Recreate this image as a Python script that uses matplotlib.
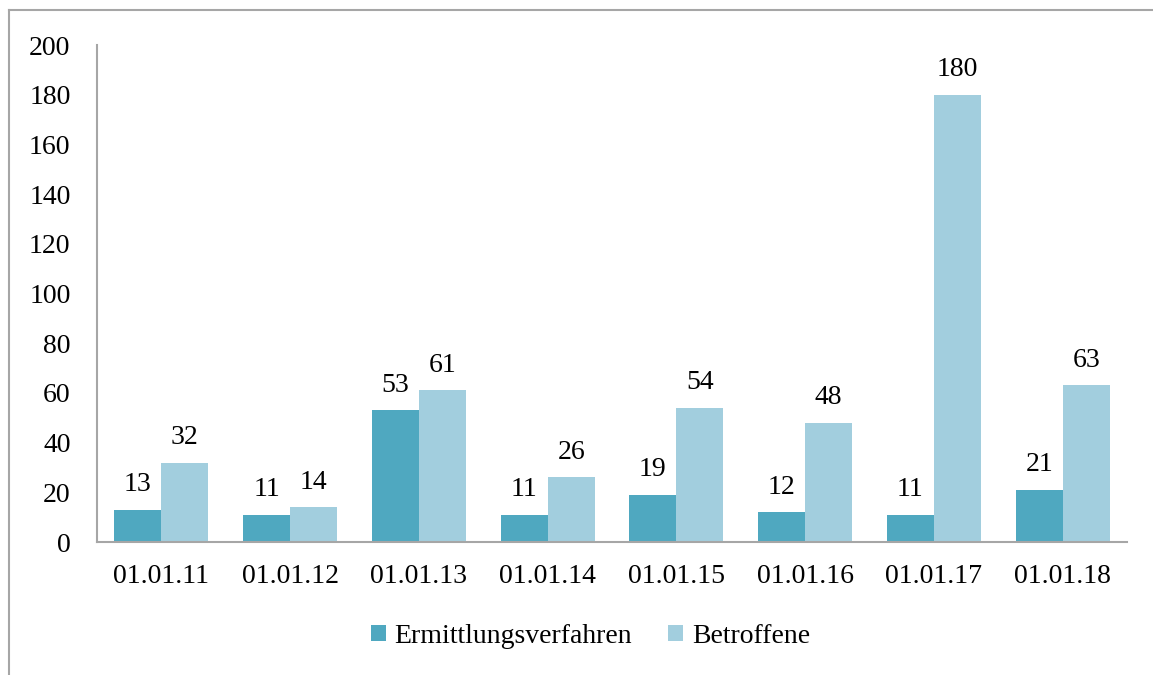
import numpy as np
import matplotlib.pyplot as plt
from matplotlib.lines import Line2D

plt.rcParams['font.family'] = ['Liberation Serif', 'DejaVu Serif']

# Daten
dates = ["01.01.11", "01.01.12", "01.01.13", "01.01.14",
         "01.01.15", "01.01.16", "01.01.17", "01.01.18"]
verfahren = [13, 11, 53, 11, 19, 12, 11, 21]
betroffene = [32, 14, 61, 26, 54, 48, 180, 63]

col_dark = '#4FA8C0'
col_light = '#A2CEDE'
grey = '#A6A6A6'
fs = 20

fig = plt.figure(figsize=(11.53, 6.75), dpi=100)
ax = fig.add_axes([0.0841, 0.197, 0.8934, 0.7363])

x = np.arange(len(dates))
w = 0.365
b1 = ax.bar(x - w / 2, verfahren, w, color=col_dark, label='Ermittlungsverfahren')
b2 = ax.bar(x + w / 2, betroffene, w, color=col_light, label='Betroffene')

for bars, vals in [(b1, verfahren), (b2, betroffene)]:
    for rect, v in zip(bars, vals):
        ax.annotate(str(v), (rect.get_x() + rect.get_width() / 2, v),
                    xytext=(0, 9), textcoords='offset points',
                    ha='center', va='bottom', fontsize=fs)

ax.set_xlim(-0.5, len(dates) - 0.5)
ax.set_ylim(0, 200)
ax.set_yticks(range(0, 201, 20))
ax.set_xticks(x)
ax.set_xticklabels(dates)
ax.tick_params(axis='both', length=0, labelsize=fs)
ax.tick_params(axis='x', pad=16)
ax.tick_params(axis='y', pad=19)

for s in ['top', 'right']:
    ax.spines[s].set_visible(False)
for s in ['left', 'bottom']:
    ax.spines[s].set_color(grey)
    ax.spines[s].set_linewidth(1.5)

ax.legend(loc='center', bbox_to_anchor=(0.479, -0.19), ncol=2, frameon=False,
          fontsize=fs, handlelength=0.55, handleheight=0.55, handletextpad=0.3,
          columnspacing=1.3)

# Rahmen um das Diagramm (oben und links sichtbar)
fig.add_artist(Line2D([9 / 1153, 1], [1 - 10 / 675, 1 - 10 / 675],
                      transform=fig.transFigure, color=grey, lw=1.5))
fig.add_artist(Line2D([9 / 1153, 9 / 1153], [0, 1 - 10 / 675],
                      transform=fig.transFigure, color=grey, lw=1.5))

fig.savefig('out.png', dpi=100)
